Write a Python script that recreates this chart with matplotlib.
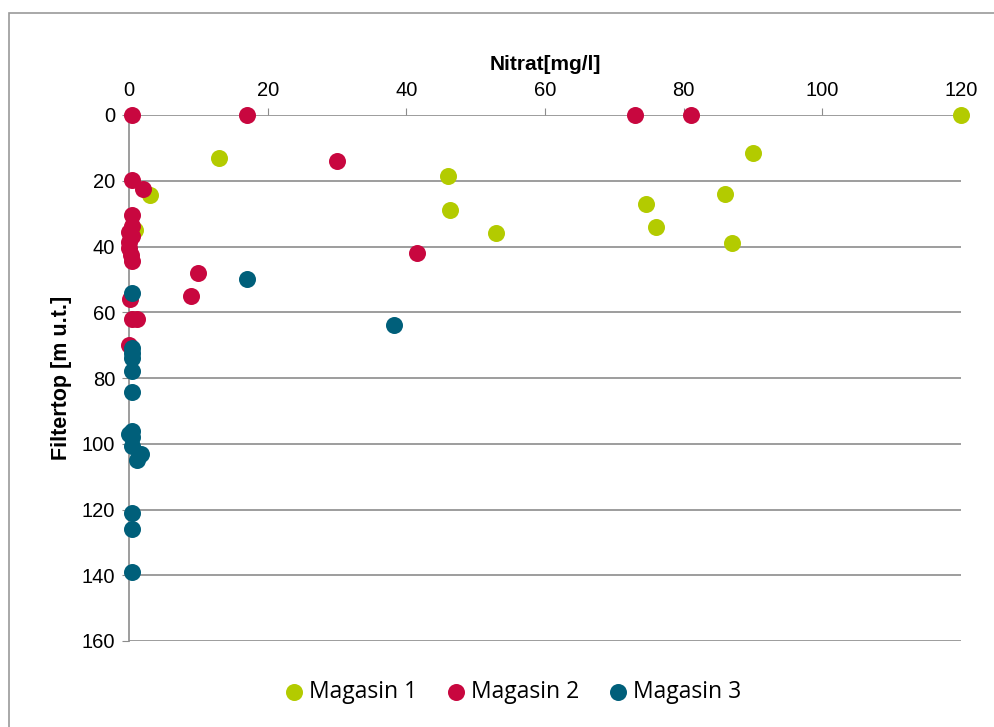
import matplotlib.pyplot as plt
from matplotlib.patches import Rectangle

plt.rcParams['font.family'] = ['Liberation Sans', 'DejaVu Sans']

# Magasin 1
m1_x = [120, 13, 90, 46, 3, 86, 46.3, 74.5, 76, 53, 87, 0.8]
m1_y = [0, 13, 11.5, 18.5, 24.3, 24, 29, 27, 34, 36, 39, 35]

# Magasin 2
m2_x = [0.5, 17, 73, 81, 30, 0.4, 2, 0.4, 0.5, 0, 0.5, 0, 0, 0.3, 0.4, 41.5, 10, 9, 0.1, 0.5, 1.2, 0]
m2_y = [0, 0, 0, 0, 14, 19.8, 22.6, 30.4, 33.9, 35.5, 36.8, 38.5, 40.5, 42.5, 44.3, 42, 48, 55, 56, 62, 62, 70]

# Magasin 3
m3_x = [0.5, 17, 38.2, 0.5, 0.5, 0.5, 0.4, 0.4, 0.5, 0.5, 0, 0.5, 1.8, 1.1, 0.5, 0.5, 0.5]
m3_y = [54.2, 50, 64, 71, 72.5, 74, 78, 84.3, 96, 98, 97, 100.8, 103, 105, 121, 126, 139]

fig = plt.figure(figsize=(9.95, 7.27), dpi=100)
fig.patches.append(Rectangle((9 / 995, -0.01), 1.0, 1 - 13 / 727 + 0.01, transform=fig.transFigure,
                             fill=False, edgecolor='#9a9a9a', linewidth=1.2))

ax = fig.add_axes([129 / 995, 1 - 641 / 727, (961 - 129) / 995, (641 - 115) / 727])

ax.scatter(m1_x, m1_y, s=150, color='#B3CB00', label='Magasin 1', zorder=3, linewidths=0, clip_on=False)
ax.scatter(m2_x, m2_y, s=150, color='#C8073F', label='Magasin 2', zorder=4, linewidths=0, clip_on=False)
ax.scatter(m3_x, m3_y, s=150, color='#005F7A', label='Magasin 3', zorder=5, linewidths=0, clip_on=False)

ax.set_xlim(0, 120)
ax.set_ylim(160, 0)
ax.set_xticks(range(0, 121, 20))
ax.set_yticks(range(0, 161, 20))
ax.xaxis.tick_top()
ax.xaxis.set_label_position('top')
ax.yaxis.grid(True, color='#8c8c8c', linewidth=1.2)
ax.set_axisbelow(True)
for s in ['top', 'right', 'bottom']:
    ax.spines[s].set_visible(False)
ax.spines['left'].set_color('#8c8c8c')
ax.spines['left'].set_linewidth(1.2)
ax.tick_params(axis='x', direction='out', length=5, color='#8c8c8c', labelsize=14.5, pad=6)
ax.tick_params(axis='y', direction='out', length=5, color='#8c8c8c', labelsize=14.5, pad=5)
ax.set_xlabel('Nitrat[mg/l]', fontsize=15, fontweight='bold', labelpad=8)
ax.set_ylabel('Filtertop [m u.t.]', fontsize=15.5, fontweight='bold', labelpad=7)

fig.legend(loc='center', bbox_to_anchor=(0.509, 1 - 692 / 727), ncol=3, frameon=False,
           prop={'family': 'Open Sans', 'size': 16.5}, handletextpad=-0.35, columnspacing=0.7,
           markerscale=1.0, scatterpoints=1)

fig.savefig('out.png', dpi=100)
